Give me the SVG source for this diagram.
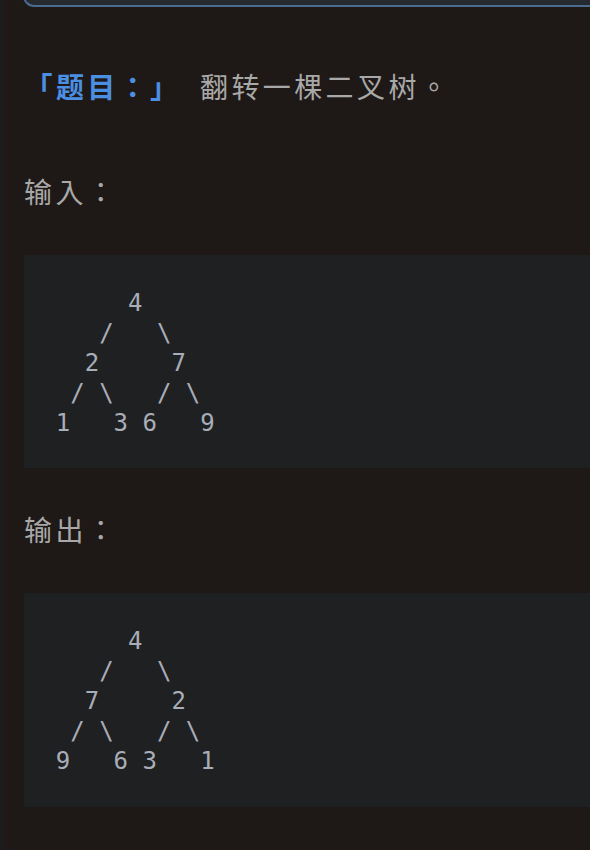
<svg xmlns="http://www.w3.org/2000/svg" width="590" height="850" viewBox="0 0 590 850">
<style>
.cjk{font-family:"Noto Sans CJK TC","Noto Sans CJK SC",sans-serif;font-size:28px;letter-spacing:3.4px}
.blue{fill:#4b8fe3;font-weight:bold}
.grey{fill:#a8a8a8}
.code{font-family:"DejaVu Sans Mono","Liberation Mono",monospace;font-size:24px;fill:#a9adb8;white-space:pre}
.block{fill:#1f2022}
</style>
<rect width="590" height="850" fill="#1e1917"/>
<rect x="0" y="0" width="4" height="850" fill="#1c1c1d"/>
<g id="top-box">
<rect x="24" y="-20" width="600" height="26" rx="10" fill="#252a31" stroke="#4a6b8e" stroke-width="2"/>
</g>
<g id="title">
<text class="cjk blue" x="24.5" y="98">「题目：」</text>
<text class="cjk grey" x="200" y="98">翻转一棵二叉树。</text>
</g>
<g id="input-label">
<text class="cjk grey" x="24" y="203">输入：</text>
</g>
<g id="input-block">
<rect class="block" x="24" y="255" width="570" height="213"/>
<text class="code" xml:space="preserve" x="55.8" y="310.5">     4</text>
<text class="code" xml:space="preserve" x="55.8" y="340.5">   /   \</text>
<text class="code" xml:space="preserve" x="55.8" y="370.5">  2     7</text>
<text class="code" xml:space="preserve" x="55.8" y="400.5"> / \   / \</text>
<text class="code" xml:space="preserve" x="55.8" y="430.5">1   3 6   9</text>
</g>
<g id="output-label">
<text class="cjk grey" x="24" y="541">输出：</text>
</g>
<g id="output-block">
<rect class="block" x="24" y="593" width="570" height="214"/>
<text class="code" xml:space="preserve" x="55.8" y="649">     4</text>
<text class="code" xml:space="preserve" x="55.8" y="679">   /   \</text>
<text class="code" xml:space="preserve" x="55.8" y="709">  7     2</text>
<text class="code" xml:space="preserve" x="55.8" y="739"> / \   / \</text>
<text class="code" xml:space="preserve" x="55.8" y="769">9   6 3   1</text>
</g>
<g id="connectors"></g>
</svg>
